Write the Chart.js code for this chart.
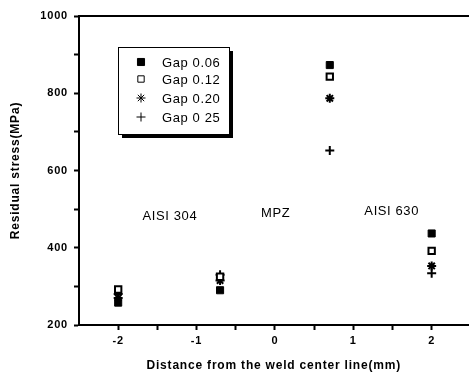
<!DOCTYPE html>
<html>
<head>
<meta charset="utf-8">
<script src="https://cdn.jsdelivr.net/npm/chart.js@4.4.0/dist/chart.umd.min.js"></script>
<style>
  html, body { margin: 0; padding: 0; background: #fff; overflow: hidden; }
  #wrap { width: 475px; height: 374px; }
</style>
</head>
<body>
<div id="wrap"><canvas id="stressChart" width="475" height="374"></canvas></div>
<script>
// distance from the weld center line (mm)
const positions = [-2, -0.7, 0.7, 2];

const seriesLabels = ['Gap 0.06', 'Gap 0.12', 'Gap 0.20', 'Gap 0 25'];
const gap006 = [258, 290, 873, 437];
const gap012 = [292, 325, 843, 392];
const gap020 = [270, 315, 787, 353];
const gap025 = [280, 330, 652, 334];

const xTicks = [-2, -1.5, -1, -0.5, 0, 0.5, 1, 1.5, 2];
const yTicks = [200, 300, 400, 500, 600, 700, 800, 900, 1000];

const zoneLabels = ['AISI 304', 'MPZ', 'AISI 630'];
const zoneX = [-1.34, 0.01, 1.49];
const zoneY = [480, 490, 495];

const FONT = "'Liberation Sans', Arial, sans-serif";

function toPoints(vals) {
    return vals.map((v, i) => ({ x: positions[i], y: v }));
}

const markerStyles = [
    { pointStyle: 'rect', backgroundColor: '#000', borderColor: '#000', pointRadius: 5, pointBorderWidth: 1 },
    { pointStyle: 'rect', backgroundColor: '#fff', borderColor: '#000', pointRadius: 4.5, pointBorderWidth: 2 },
    { pointStyle: 'star', backgroundColor: '#000', borderColor: '#000', pointRadius: 4.5, pointBorderWidth: 2 },
    { pointStyle: 'cross', backgroundColor: '#000', borderColor: '#000', pointRadius: 4.5, pointBorderWidth: 2 }
];

const allSeries = [gap006, gap012, gap020, gap025];
const datasets = allSeries.map((vals, i) => Object.assign({
    label: seriesLabels[i],
    data: toPoints(vals),
    showLine: false
}, markerStyles[i]));

// legend box drawn inside the plot area, like the original figure
const boxLegend = {
    id: 'boxLegend',
    afterDraw(chart) {
        const ctx = chart.ctx;
        const bx = 118, by = 47, bw = 111, bh = 87;
        ctx.save();
        ctx.fillStyle = '#000';
        ctx.fillRect(bx + 4, by + 4, bw, bh);
        ctx.fillStyle = '#fff';
        ctx.fillRect(bx, by, bw, bh);
        ctx.strokeStyle = '#000';
        ctx.lineWidth = 1;
        ctx.strokeRect(bx + 0.5, by + 0.5, bw, bh);
        ctx.letterSpacing = '0.6px';
        ctx.font = '13px ' + FONT;
        ctx.textBaseline = 'middle';
        ctx.textAlign = 'left';
        const rows = [62, 79, 98, 117];
        chart.data.datasets.forEach((ds, i) => {
            ctx.fillStyle = ds.backgroundColor;
            ctx.strokeStyle = ds.borderColor;
            Chart.helpers.drawPoint(ctx, {
                pointStyle: ds.pointStyle,
                radius: ds.pointRadius,
                borderWidth: ds.pointBorderWidth,
                rotation: 0
            }, 141, rows[i]);
            ctx.fillStyle = '#000';
            ctx.fillText(ds.label, 162, rows[i] + 1);
        });
        ctx.restore();
    }
};

// the zone names written in the plot area
const zoneText = {
    id: 'zoneText',
    afterDatasetsDraw(chart) {
        const ctx = chart.ctx;
        const xs = chart.scales.x, ys = chart.scales.y;
        ctx.save();
        ctx.letterSpacing = '0.6px';
        ctx.font = '13px ' + FONT;
        ctx.fillStyle = '#000';
        ctx.textAlign = 'center';
        ctx.textBaseline = 'middle';
        zoneLabels.forEach((t, i) => {
            ctx.fillText(t, xs.getPixelForValue(zoneX[i]), ys.getPixelForValue(zoneY[i]));
        });
        ctx.restore();
    }
};

// the scanned figure has slightly spaced lettering on the axes
const spacedText = {
    id: 'spacedText',
    beforeDraw(chart) {
        chart.ctx.letterSpacing = '0.8px';
    }
};

const ctx = document.getElementById('stressChart').getContext('2d');
new Chart(ctx, {
    type: 'scatter',
    data: { datasets: datasets },
    options: {
        responsive: false,
        animation: false,
        layout: { padding: { top: 16, left: 0, right: 0, bottom: 0 } },
        plugins: {
            legend: { display: false },
            tooltip: { enabled: false }
        },
        scales: {
            x: {
                type: 'linear',
                position: 'bottom',
                min: -2.5,
                max: 2.47,
                afterFit: (s) => { s.height = 49; },
                afterBuildTicks: (s) => { s.ticks = xTicks.map(v => ({ value: v })); },
                border: { display: true, color: '#000', width: 2 },
                grid: { display: true, drawOnChartArea: false, drawTicks: true, tickLength: 5, tickColor: '#000', tickWidth: 2 },
                ticks: {
                    color: '#000',
                    padding: 4,
                    maxRotation: 0,
                    font: { family: FONT, size: 11, weight: 'bold' },
                    callback: (v) => Number.isInteger(v) ? String(v) : ''
                },
                title: {
                    display: true,
                    text: 'Distance from the weld center line(mm)',
                    color: '#000',
                    padding: { top: 4, bottom: 1 },
                    font: { family: FONT, size: 12, weight: 'bold' }
                }
            },
            xTop: {
                type: 'linear',
                position: 'top',
                min: -2.5,
                max: 2.47,
                afterFit: (s) => { s.height = 0; },
                border: { display: true, color: '#000', width: 2 },
                grid: { display: false },
                ticks: { display: false }
            },
            y: {
                type: 'linear',
                position: 'left',
                min: 200,
                max: 1000,
                afterFit: (s) => { s.width = 79; },
                afterBuildTicks: (s) => { s.ticks = yTicks.map(v => ({ value: v })); },
                border: { display: true, color: '#000', width: 2 },
                grid: { display: true, drawOnChartArea: false, drawTicks: true, tickLength: 5, tickColor: '#000', tickWidth: 2 },
                ticks: {
                    color: '#000',
                    padding: 6,
                    font: { family: FONT, size: 11, weight: 'bold' },
                    callback: (v) => v % 200 === 0 ? String(v) : ''
                },
                title: {
                    display: true,
                    text: 'Residual stress(MPa)',
                    color: '#000',
                    padding: { top: 8, bottom: 0 },
                    font: { family: FONT, size: 12, weight: 'bold' }
                }
            }
        }
    },
    plugins: [spacedText, zoneText, boxLegend]
});
</script>
</body>
</html>
